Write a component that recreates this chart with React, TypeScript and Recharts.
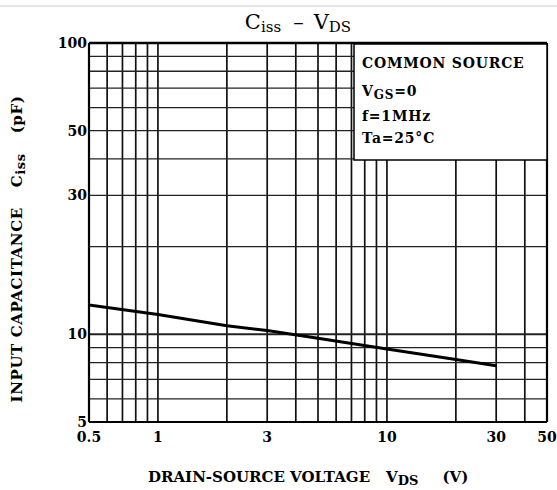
import React from 'react';
import { LineChart, Line, XAxis, YAxis, ReferenceLine } from 'recharts';

const vds = [0.5, 1, 2, 3, 5, 10, 20, 30];
const ciss = [12.6, 11.7, 10.7, 10.3, 9.7, 8.9, 8.2, 7.8];
const xTicks = [0.5, 1, 3, 10, 30, 50];
const yTicks = [5, 10, 30, 50, 100];
const xGrid = [0.6, 0.7, 0.8, 0.9, 1, 2, 3, 4, 5, 6, 7, 8, 9, 10, 20, 30, 40];
const yGrid = [6, 7, 8, 9, 10, 20, 30, 40, 50, 60, 70, 80, 90];

const data = vds.map((v, i) => ({ vds: v, ciss: ciss[i] }));

const FONT = "'DejaVu Serif', 'Liberation Serif', serif";
const tickStyle = { fill: '#000', fontSize: 14, fontWeight: 'bold', fontFamily: FONT } as any;

export default function App() {
  return (
    <div style={{ position: 'absolute', left: 0, top: 0, width: 557, height: 490, background: '#fff' }}>
      <LineChart width={557} height={490} data={data} margin={{ top: 43, right: 10, bottom: 38, left: 49 }}>
        <XAxis
          dataKey="vds"
          type="number"
          scale="log"
          domain={[0.5, 50]}
          ticks={xTicks}
          interval={0}
          allowDataOverflow
          axisLine={false}
          tickLine={false}
          tickSize={0}
          tickMargin={10}
          height={30}
          tick={tickStyle}
        />
        <YAxis
          type="number"
          scale="log"
          domain={[5, 100]}
          ticks={yTicks}
          interval={0}
          allowDataOverflow
          axisLine={false}
          tickLine={false}
          tickSize={0}
          tickMargin={2}
          width={40}
          tick={tickStyle}
        />
        {xGrid.map((v) => (
          <ReferenceLine key={'x' + v} x={v} stroke="#111" strokeWidth={1.7} />
        ))}
        {yGrid.map((v) => (
          <ReferenceLine key={'y' + v} y={v} stroke="#222" strokeWidth={v === 10 ? 2 : 1.3} />
        ))}
        <ReferenceLine x={0.5} stroke="#000" strokeWidth={2.2} />
        <ReferenceLine x={50} stroke="#000" strokeWidth={2.2} />
        <ReferenceLine y={5} stroke="#000" strokeWidth={2.2} />
        <ReferenceLine y={100} stroke="#000" strokeWidth={2.6} />
        <Line
          dataKey="ciss"
          type="linear"
          stroke="#000"
          strokeWidth={3}
          dot={false}
          isAnimationActive={false}
        />
      </LineChart>
      <svg
        width={557}
        height={490}
        style={{ position: 'absolute', left: 0, top: 0, pointerEvents: 'none' }}
      >
        <line x1={0} x2={557} y1={6} y2={6} stroke="#ccc" strokeWidth={1} />
        <text x={298} y={29} textAnchor="middle" fontFamily={FONT} fontSize={21} fill="#000">
          <tspan>C</tspan>
          <tspan fontSize={15} dy={3}>iss</tspan>
          <tspan dy={-3} dx={12}>–</tspan>
          <tspan dx={10}>V</tspan>
          <tspan fontSize={15} dy={3}>DS</tspan>
        </text>
        <rect x={354} y={44} width={193} height={116} fill="#fff" stroke="#000" strokeWidth={1.5} />
        <g fontFamily={FONT} fontWeight="bold" fontSize={14} fill="#000" letterSpacing={0.8}>
          <text x={362} y={68}>COMMON SOURCE</text>
          <text x={362} y={96}>
            <tspan>V</tspan>
            <tspan fontSize={12} dy={3}>GS</tspan>
            <tspan dy={-3}>=0</tspan>
          </text>
          <text x={362} y={121}>f=1MHz</text>
          <text x={362} y={143}>Ta=25°C</text>
        </g>
        <text fontFamily={FONT} fontWeight="bold" fontSize={15} fill="#000" x={148} y={482} letterSpacing={0}>
          <tspan>DRAIN-SOURCE VOLTAGE</tspan>
          <tspan dx={16}>V</tspan>
          <tspan fontSize={13} dy={3}>DS</tspan>
          <tspan dy={-3} dx={24}>(V)</tspan>
        </text>
        <text
          fontFamily={FONT}
          fontWeight="bold"
          fontSize={15}
          fill="#000"
          letterSpacing={0.6}
          transform="translate(22, 249) rotate(-90)"
          textAnchor="middle"
        >
          <tspan>INPUT CAPACITANCE</tspan>
          <tspan dx={20}>C</tspan>
          <tspan fontSize={13} dy={3}>iss</tspan>
          <tspan dy={-3} dx={20}>(pF)</tspan>
        </text>
      </svg>
    </div>
  );
}
